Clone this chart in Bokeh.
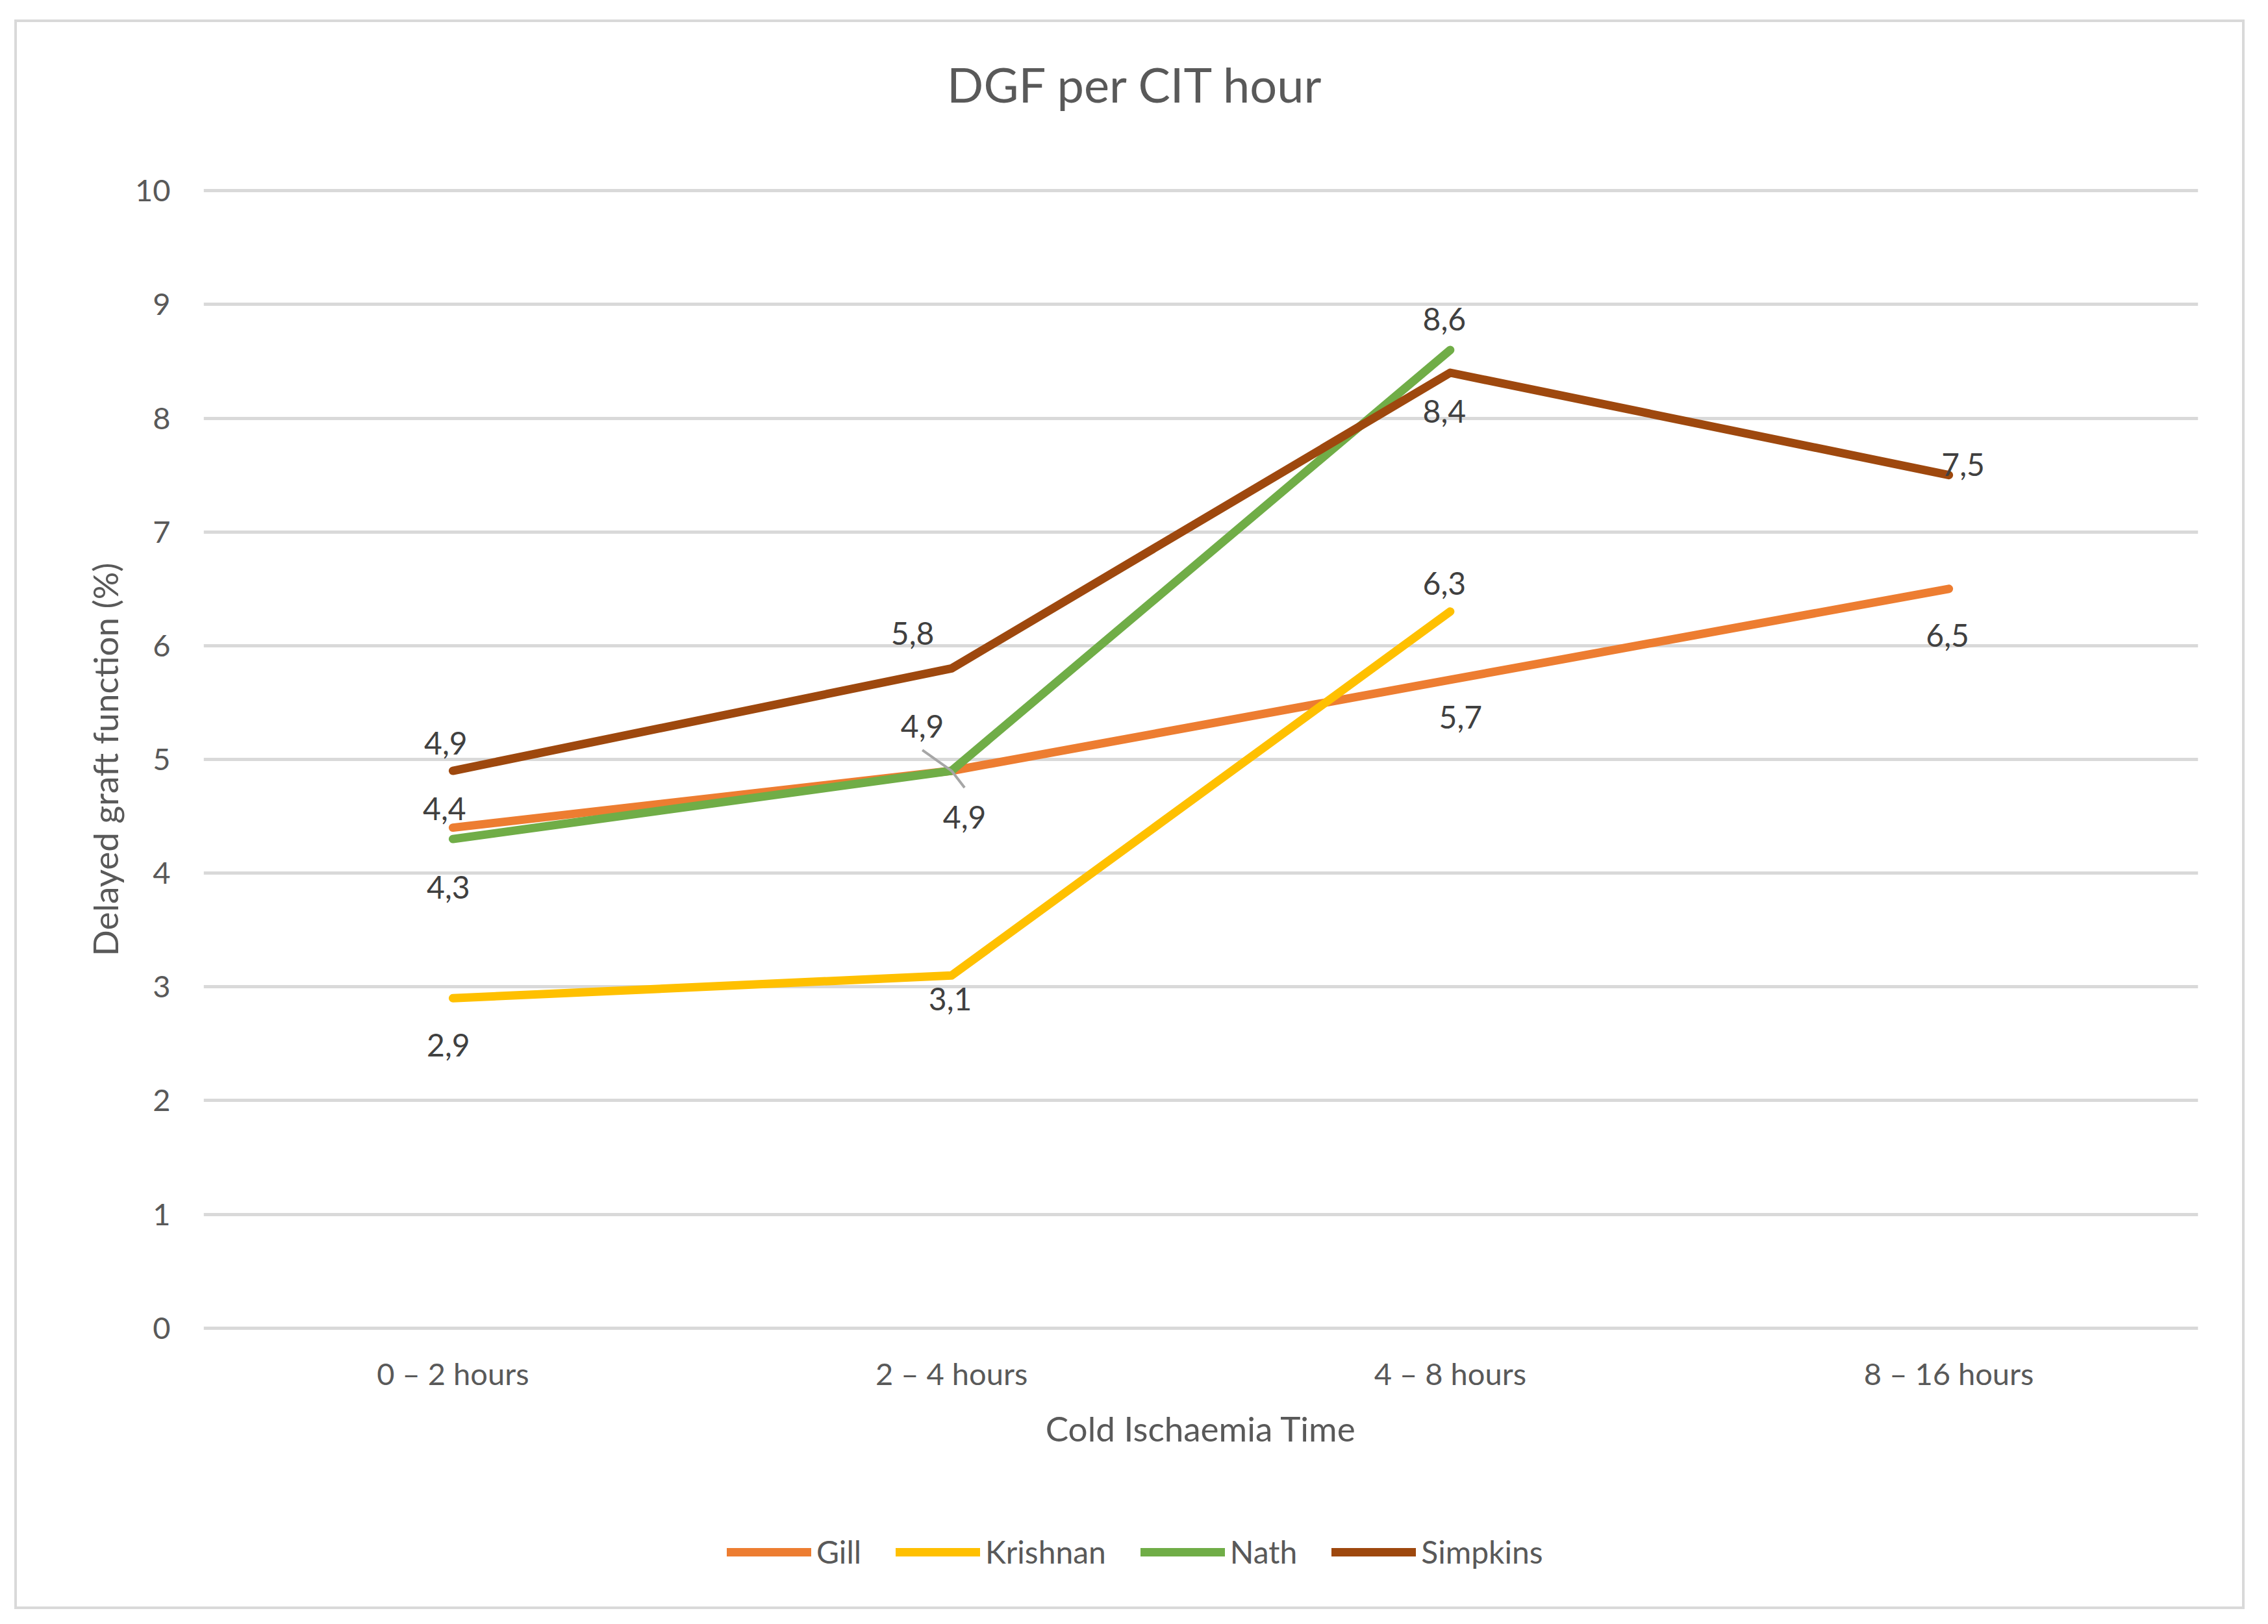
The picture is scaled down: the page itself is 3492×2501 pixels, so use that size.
import math
from bokeh.plotting import figure
from bokeh.layouts import column
from bokeh.models import (FactorRange, Range1d, Legend, LegendItem, ColumnDataSource,
                          FixedTicker)
from bokeh.transform import dodge
from bokeh.core.properties import value
from bokeh.embed import file_html
from bokeh.resources import INLINE

# ---------------- data ----------------
categories = ["0 – 2 hours", "2 – 4 hours", "4 – 8 hours", "8 – 16 hours"]
series_names = ["Gill", "Krishnan", "Nath", "Simpkins"]
gill = [4.4, 4.9, 5.7, 6.5]
krishnan = [2.9, 3.1, 6.3, float("nan")]
nath = [4.3, 4.9, 8.6, float("nan")]
simpkins = [4.9, 5.8, 8.4, 7.5]
y_ticks = [0, 1, 2, 3, 4, 5, 6, 7, 8, 9, 10]

title_text = "DGF per CIT hour"
x_title = "Cold Ischaemia Time"
y_title = "Delayed graft function (%)"

# ---------------- styles ----------------
colors = ["#ED7D31", "#FFC000", "#70AD47", "#9E480E"]
FONT = "Lato"
TXT = "#595959"
LBL = "#404040"
GRID = "#D9D9D9"
# data-label pixel offsets (dx, dy) per series / point
label_offsets = [
    [(-13, -29), (20, 71), (16, 58), (-2, 72)],
    [(-7, 72), (-2, 36), (-9, -43), (0, 0)],
    [(-7, 74), (-45, -69), (-9, -47), (0, 0)],
    [(-11, -43), (-60, -54), (-9, 60), (22, -16)],
]

W = 3426
H_TITLE, H_MAIN, H_LEG = 200, 2066, 174
FL, FR, FT, FB = 287, 3358, 54, 1816  # main frame edges in main-figure px
PAD = 0.03
LW = 13

def bare(height, **kw):
    f = figure(width=W, height=height, x_range=Range1d(0, 1), y_range=Range1d(0, 1),
               x_axis_type=None, y_axis_type=None, output_backend="svg",
               toolbar_location=None, min_border=0, **kw)
    f.outline_line_color = None
    f.background_fill_color = "white"
    f.border_fill_color = "white"
    return f

# ---------------- title ----------------
pt = bare(H_TITLE)
pt.text(x=[0.5], y=[0.5], text=[title_text], x_offset=-100, y_offset=-5,
        text_font=value(FONT), text_font_size="74px", text_color=TXT,
        text_align="center", text_baseline="middle")

# ---------------- main chart ----------------
p = figure(width=W, height=H_MAIN, x_range=FactorRange(*categories, range_padding=0),
           y_range=Range1d(-PAD, 10 + PAD), output_backend="svg", toolbar_location=None,
           min_border_left=FL, min_border_right=W - FR, min_border_top=FT,
           min_border_bottom=H_MAIN - FB)
p.outline_line_color = None
p.background_fill_color = "white"
p.border_fill_color = "white"

p.yaxis.ticker = FixedTicker(ticks=y_ticks)
for ax in (p.xaxis[0], p.yaxis[0]):
    ax.axis_line_color = None
    ax.major_tick_line_color = None
    ax.minor_tick_line_color = None
    ax.major_label_text_font = FONT
    ax.major_label_text_font_size = "47px"
    ax.major_label_text_color = TXT
    ax.axis_label_text_font = FONT
    ax.axis_label_text_font_size = "53px"
    ax.axis_label_text_font_style = "normal"
    ax.axis_label_text_color = TXT
p.yaxis.major_label_standoff = 45
p.yaxis.axis_label = y_title
p.yaxis.axis_label_standoff = 12
p.xaxis.major_label_standoff = 30
p.xaxis.axis_label = x_title
p.xaxis.axis_label_standoff = 22

p.xgrid.grid_line_color = None
p.ygrid.grid_line_color = GRID
p.ygrid.grid_line_width = 5

all_series = [gill, krishnan, nath, simpkins]
for name, vals, col in zip(series_names, all_series, colors):
    p.line(x=categories, y=vals, line_color=col, line_width=LW,
           line_cap="round", line_join="round")

# leader lines (Nath 4,9 above, Gill 4,9 below)
XPX = (FR - FL) / len(categories)
YPX = (FB - FT) / (10 + 2 * PAD)
lead_src_n = ColumnDataSource(dict(x=[categories[1]], y=[nath[1]]))
p.segment(x0=dodge("x", -45 / XPX, range=p.x_range), y0=dodge("y", 32 / YPX),
          x1="x", y1="y", source=lead_src_n, line_color="#A6A6A6", line_width=4)
lead_src_g = ColumnDataSource(dict(x=[categories[1]], y=[gill[1]]))
p.segment(x0="x", y0="y", x1=dodge("x", 20 / XPX, range=p.x_range), y1=dodge("y", -26 / YPX),
          source=lead_src_g, line_color="#A6A6A6", line_width=4)

# data labels
lx, ly, lt, ldx, ldy = [], [], [], [], []
for vals, offs in zip(all_series, label_offsets):
    for c, v, (dx, dy) in zip(categories, vals, offs):
        if v is None or (isinstance(v, float) and math.isnan(v)):
            continue
        lx.append(c); ly.append(v); lt.append(f"{v:.1f}".replace(".", ","))
        ldx.append(dx); ldy.append(dy)
lsrc = ColumnDataSource(dict(x=lx, y=ly, t=lt, dx=ldx, dy=ldy))
p.text(x="x", y="y", text="t", x_offset="dx", y_offset="dy", source=lsrc,
       text_font=value(FONT), text_font_size="48px", text_color=LBL,
       text_align="center", text_baseline="middle")

# ---------------- legend ----------------
pl = bare(H_LEG)
NAN = float("nan")
leg_renderers = [pl.line(x=[NAN, NAN], y=[NAN, NAN], line_color=col, line_width=LW,
                         line_cap="round") for col in colors]
legend = Legend(items=[LegendItem(label=n, renderers=[r]) for n, r in zip(series_names, leg_renderers)],
                orientation="horizontal", location=(806, 56))
legend.label_text_font = FONT
legend.label_text_font_size = "48px"
legend.label_text_color = TXT
legend.glyph_width = 130
legend.glyph_height = 20
legend.label_standoff = 8
legend.spacing = 53
legend.padding = 0
legend.margin = 0
legend.border_line_color = None
legend.background_fill_alpha = 0
pl.add_layout(legend)

layout = column(pt, p, pl, spacing=0)
layout.margin = (34, 0, 0, 26)
layout.styles = {"outline": "4px solid #D9D9D9", "outline-offset": "0px"}

open("out.html", "w").write(file_html(layout, INLINE))
